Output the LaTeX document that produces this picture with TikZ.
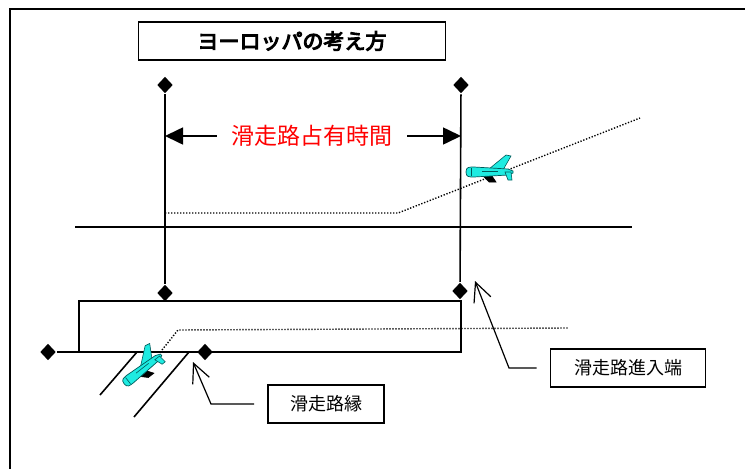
\documentclass[tikz,border=0pt]{standalone}
\usepackage{fontspec}
\usepackage{tikz}
\usetikzlibrary{shapes.geometric,arrows.meta}
\newfontfamily\jp{Noto Sans CJK JP}
\newfontfamily\jpbold[FakeBold=5]{Noto Sans CJK JP}
\definecolor{planecyan}{RGB}{30,235,225}
\definecolor{planeedge}{RGB}{0,90,90}

\begin{document}
\begin{tikzpicture}[x=1pt,y=-1pt,line width=1.6pt,
    dia/.style={diamond,fill=black,inner sep=0pt,minimum width=16pt,minimum height=17pt},
    callbox/.style={draw,line width=1.6pt,minimum height=38pt,font=\jp\fontsize{18}{20}\selectfont},
    leader/.style={line width=1.2pt,shorten <=13pt,-{Straight Barb[length=19pt,width=18pt]}},
    span/.style={line width=1.6pt,-{Triangle[length=18pt,width=17pt]}},
    track/.style={line width=1.4pt,dash pattern=on 1.3pt off 1.7pt},
    plane/.pic={
        \filldraw[draw=black,fill=black,line width=0.6pt] (-7,4) -- (-1,10) -- (6,10) -- (2,4) -- cycle;
        \filldraw[draw=planeedge,fill=planecyan,line width=0.6pt] (-1,-3) -- (16,-17) -- (21,-16) -- (13,-2) -- cycle;
        \filldraw[draw=planeedge,fill=planecyan,line width=0.7pt] (-24,0) .. controls (-24,-5) and (-21,-5) .. (-16,-5) -- (18,-3) -- (23,-1) -- (23,1) -- (18,3) -- (-16,5) .. controls (-21,5) and (-24,5) .. (-24,0) -- cycle;
        \filldraw[draw=planeedge,fill=planecyan,line width=0.6pt] (15,0) -- (18,8) -- (22,8) -- (21,0) -- cycle;
        \draw[planeedge,line width=0.6pt] (-19,-4) -- (-19,4);
        \draw[planeedge,line width=0.6pt] (-8,-1) -- (8,-1);
    }]
    \useasboundingbox (0,0) rectangle (745,469);
    % frame
    \draw (745,9) -- (10,9) -- (10,469);
    \node[draw,minimum width=307pt,minimum height=38pt,font=\jpbold\fontsize{21}{23}\selectfont] (title) at (292,41) {ヨーロッパの考え方};

    % occupancy span
    \node[dia] (dtl) at (165,85) {};
    \node[dia] (dbl) at (165,293) {};
    \node[dia] (dtr) at (461,85) {};
    \node[dia] (dbr) at (460,291) {};
    \draw (dtl) -- (dbl);
    \draw (dtr) -- (dbr);
    \node[text=red,inner xsep=14pt,font=\jp\fontsize{23}{25}\selectfont] (occ) at (312,136) {滑走路占有時間};
    \draw[span] (occ.west) -- (occ.west -| dtl);
    \draw[span] (occ.east) -- (occ.east -| dtr);

    % approach
    \draw (75,227) -- (632,227);
    \draw[track] (165,213) -- (398,213) -- (640,118);
    \pic at (490,172) {plane};

    % runway
    \draw (79,301) rectangle (461,352);
    \node[dia] (dle) at (48,352) {};
    \node[dia] (dre) at (205,352) {};
    \draw (dle) -- (dre);
    \draw[track] (162,350) -- (178,330) -- (568,328);
    \draw (137,352) -- (100,395);
    \draw (189,352) -- (134,417);
    \pic[rotate=38] at (143,369) {plane};

    % callouts
    \node[callbox,minimum width=116pt] (edgebox) at (326,404) {滑走路縁};
    \node[callbox,minimum width=155pt] (threshbox) at (628,368) {滑走路進入端};
    \coordinate (k1) at (211,404);
    \coordinate (t1) at (193,362);
    \coordinate (k2) at (509,368);
    \coordinate (t2) at (475,281);
    \draw[leader] (edgebox.west) -- (k1) -- (t1);
    \draw[leader] (threshbox.west) -- (k2) -- (t2);
\end{tikzpicture}
\end{document}
